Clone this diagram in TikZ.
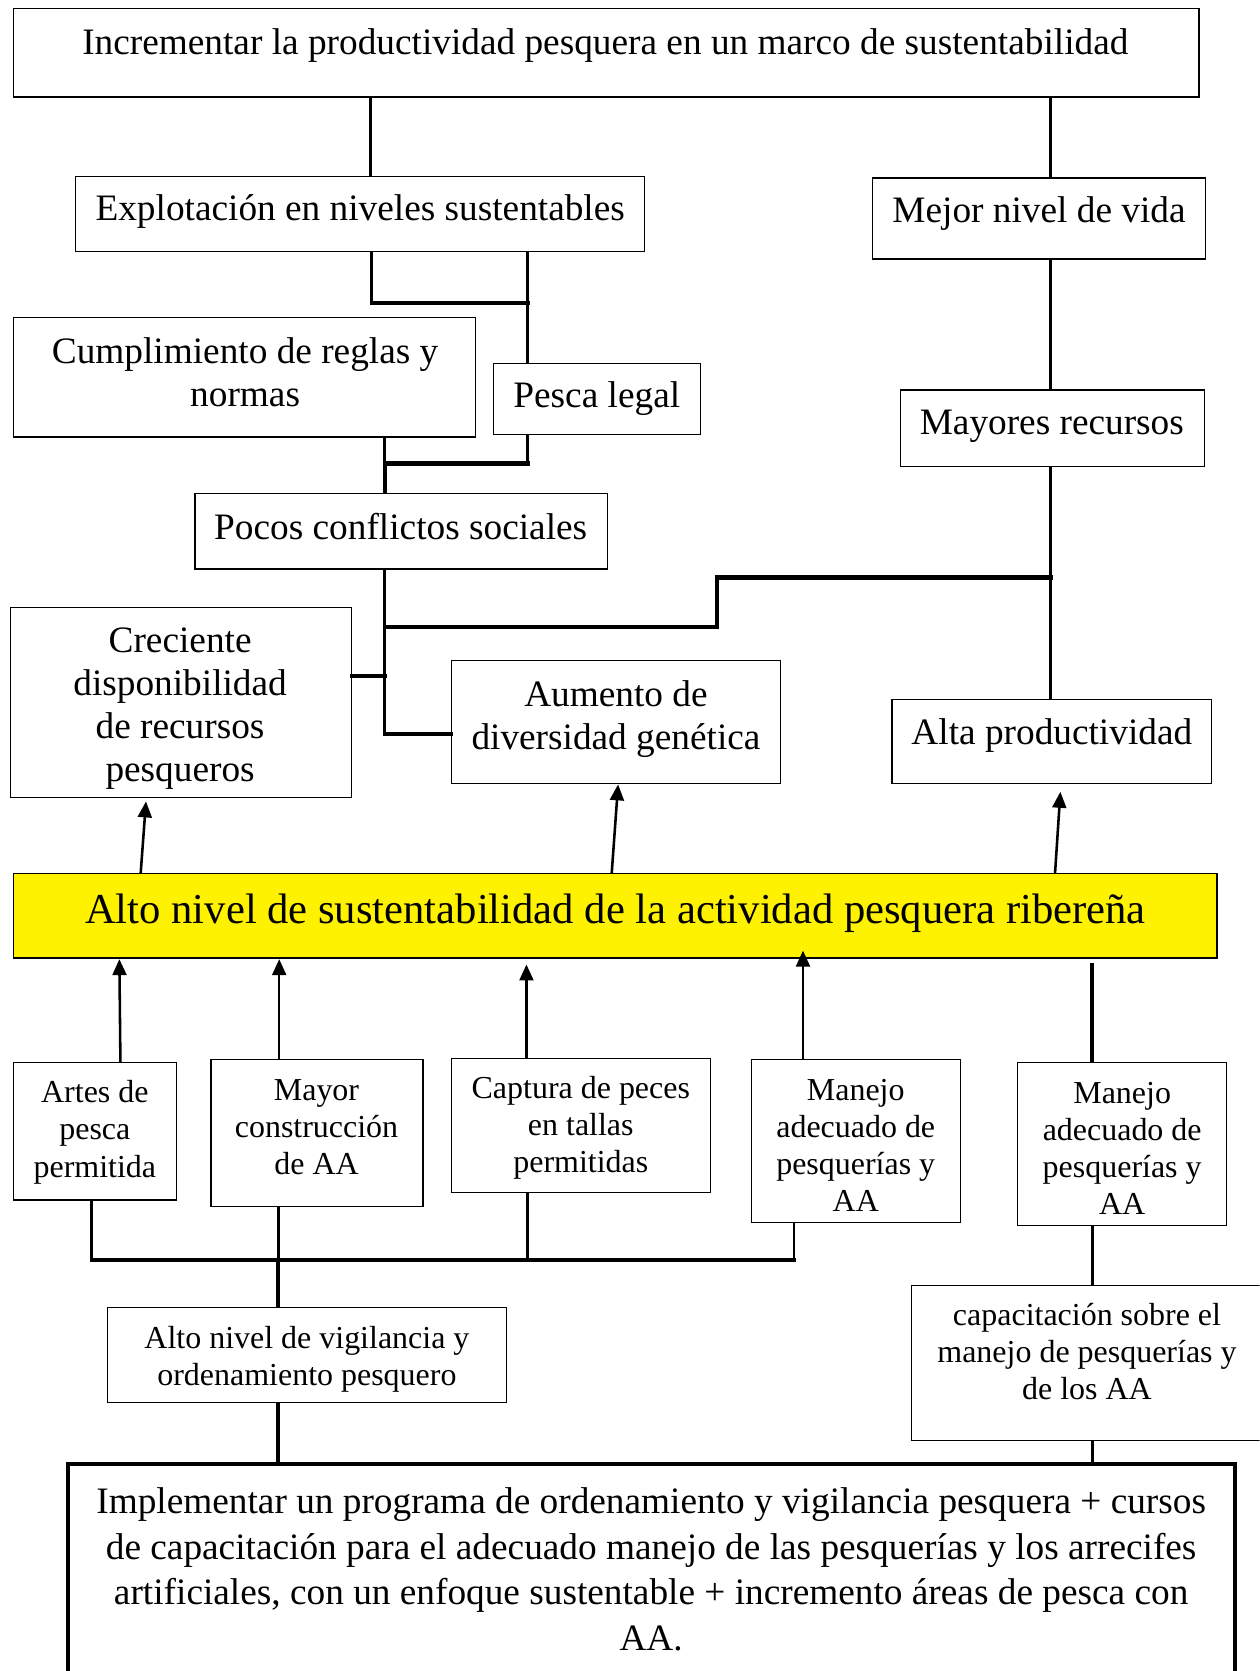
\documentclass[tikz,border=0pt]{standalone}
\usepackage{fontspec}
\setmainfont{Liberation Serif}
\usetikzlibrary{arrows.meta,fit}
\newcommand\sizeM{\fontsize{35}{40.5}\selectfont}
\newcommand\sizeS{\fontsize{30}{34.8}\selectfont}
\newcommand\sizeL{\fontsize{40}{46}\selectfont}
\newcommand\sizeB{\fontsize{35}{42.7}\selectfont}
\begin{document}
\begin{tikzpicture}[x=1pt,y=-1pt,
  box/.style={draw,line width=1.1pt,inner sep=0pt,fill=white},
  lbl/.style={align=center,inner sep=0pt},
  conn/.style={line width=2.7pt},
  bus/.style={line width=4pt,line cap=rect},
  up/.style={line width=2.4pt,-{Triangle[length=15pt,width=13pt]}},
]
\clip (0,0) rectangle (1182,1568);
\fill[white] (0,0) rectangle (1182,1568);

% ---- boxes ----
\node[box,fit={(13,8)(1125,91)}] (goal) {};
\node[box,fit={(71,166)(605,236)}] (expl) {};
\node[box,fit={(819,167)(1131,243)}] (mejor) {};
\node[box,fit={(13,298)(446,410)}] (cumpl) {};
\node[box,fit={(463,341)(657,408)}] (pesca) {};
\node[box,fit={(183,463)(570,534)}] (pocos) {};
\node[box,fit={(845,366)(1130,438)}] (mayores) {};
\node[box,fit={(10,570)(330,748)}] (crec) {};
\node[box,fit={(424,620)(732,735)}] (aum) {};
\node[box,fit={(837,656)(1137,735)}] (alta) {};
\node[box,fill=yellow,fit={(13,820)(1142,899)}] (yel) {};
\node[box,fit={(13,997)(166,1126)}] (artes) {};
\node[box,fit={(198,994)(397,1132)}] (mayor) {};
\node[box,fit={(424,993)(667,1119)}] (capt) {};
\node[box,fit={(705,994)(901,1147)}] (man1) {};
\node[box,fit={(955,997)(1151,1150)}] (man2) {};
\node[box,fit={(101,1227)(475,1316)}] (vig) {};
\node[box,fit={(855,1206)(1210,1352)}] (capac) {};
\node[box,line width=3.6pt,fit={(64,1374)(1159,1620)}] (impl) {};

% ---- texts ----
\node[lbl,font=\sizeM] (tgoal) at (568,43) {Incrementar la productividad pesquera en un marco de sustentabilidad};
\node[lbl,font=\sizeM] (texpl) at (338,198) {Explotación en niveles sustentables};
\node[lbl,font=\sizeM] (tmejor) at (975,200) {Mejor nivel de vida};
\node[lbl,font=\sizeM] (tcumpl) at (230,349.5) {Cumplimiento de reglas y\\normas};
\node[lbl,font=\sizeM] (tpesca) at (560,374) {Pesca legal};
\node[lbl,font=\sizeM] (tpocos) at (376,494) {Pocos conflictos sociales};
\node[lbl,font=\sizeM] (tmayores) at (987,400) {Mayores recursos};
\node[lbl,font=\sizeM] (tcrec) at (169,665) {Creciente\\disponibilidad\\de recursos\\pesqueros};
\node[lbl,font=\sizeM] (taum) at (578,675) {Aumento de\\diversidad genética};
\node[lbl,font=\sizeM] (talta) at (987,690) {Alta productividad};
\node[lbl,font=\sizeL] (tyel) at (577.5,857) {Alto nivel de sustentabilidad de la actividad pesquera ribereña};
\node[lbl,font=\sizeS] (tartes) at (89,1062.5) {Artes de\\pesca\\permitida};
\node[lbl,font=\sizeS] (tmayor) at (297,1058) {Mayor\\construcción\\de AA};
\node[lbl,font=\sizeS] (tcapt) at (545,1058.5) {Captura de peces\\en tallas\\permitidas};
\node[lbl,font=\sizeS] (tman1) at (803,1074.5) {Manejo\\adecuado de\\pesquerías y\\AA};
\node[lbl,font=\sizeS] (tman2) at (1053,1077.5) {Manejo\\adecuado de\\pesquerías y\\AA};
\node[lbl,font=\sizeS] (tvig) at (288,1275.5) {Alto nivel de vigilancia y\\ordenamiento pesquero};
\node[lbl,font=\sizeS] (tcapac) at (1020,1268) {capacitación sobre el\\manejo de pesquerías y\\de los AA};
\node[lbl,font=\sizeB] (timpl) at (611,1472.5) {Implementar un programa de ordenamiento y vigilancia pesquera + cursos\\de capacitación para el adecuado manejo de las pesquerías y los arrecifes\\artificiales, con un enfoque sustentable + incremento áreas de pesca con\\AA.};

% ---- upper connectors ----
\draw[conn] (348,0 |- goal.south) -- (348,0 |- expl.north);
\draw[conn] (986,0 |- goal.south) -- (986,0 |- mejor.north);
\draw[conn] (986,0 |- mejor.south) -- (986,0 |- mayores.north);
\draw[conn] (986,0 |- mayores.south) -- (986,0 |- alta.north);

\coordinate (j1) at (349,284);
\coordinate (j2) at (495,284);
\draw[conn] (349,0 |- expl.south) -- (j1);
\draw[conn] (495,0 |- expl.south) -- (495,0 |- pesca.north);
\draw[bus] (j1) -- (j2);

\coordinate (j3) at (361,435);
\coordinate (j4) at (495,435);
\draw[conn] (361,0 |- cumpl.south) -- (j3);
\draw[conn] (495,0 |- pesca.south) -- (j4);
\draw[bus] (j3) -- (j4);
\draw[line width=3.4pt] (j3) -- (361,0 |- pocos.north);

\coordinate (j5) at (361,689);
\coordinate (j6) at (361,634);
\coordinate (j7) at (361,588);
\coordinate (j8) at (673,588);
\coordinate (j9) at (673,542);
\coordinate (j10) at (986,542);
\draw[conn] (361,0 |- pocos.south) -- (j5);
\draw[bus] (j5) -- (j5 -| aum.west);
\draw[bus] (j6 -| crec.east) -- (j6);
\draw[bus] (j7) -- (j8) -- (j9) -- (j10);

% ---- arrows around the central box ----
\coordinate (a1) at (137,752);
\coordinate (a2) at (580,736);
\coordinate (a3) at (995,743);
\draw[up] (132,0 |- yel.north) -- (a1);
\draw[up] (574,0 |- yel.north) -- (a2);
\draw[up] (990,0 |- yel.north) -- (a3);

\coordinate (b1) at (112,900);
\coordinate (b2) at (262,900);
\coordinate (b3) at (494,905);
\coordinate (b4) at (753.5,892);
\coordinate (b5) at (1025,904);
\draw[up] (113,0 |- artes.north) -- (b1);
\draw[up] (262,0 |- mayor.north) -- (b2);
\draw[up] (494,0 |- capt.north) -- (b3);
\draw[up] (753.5,0 |- man1.north) -- (b4);
\draw[line width=3.6pt] (1025,0 |- man2.north) -- (b5);

% ---- lower connectors ----
\coordinate (k1) at (86,1182);
\coordinate (k2) at (261,1182);
\coordinate (k3) at (495,1182);
\coordinate (k4) at (745,1182);
\draw[conn] (86,0 |- artes.south) -- (k1);
\draw[conn] (261,0 |- mayor.south) -- (k2);
\draw[conn] (495,0 |- capt.south) -- (k3);
\draw[conn] (745,0 |- man1.south) -- (k4);
\draw[bus] (k1) -- (k4);
\draw[line width=4.2pt] (k2) -- (261,0 |- vig.north);
\draw[line width=4.2pt] (261,0 |- vig.south) -- (261,0 |- impl.north);
\draw[conn] (1025,0 |- man2.south) -- (1025,0 |- capac.north);
\draw[conn] (1025,0 |- capac.south) -- (1025,0 |- impl.north);
\end{tikzpicture}
\end{document}
